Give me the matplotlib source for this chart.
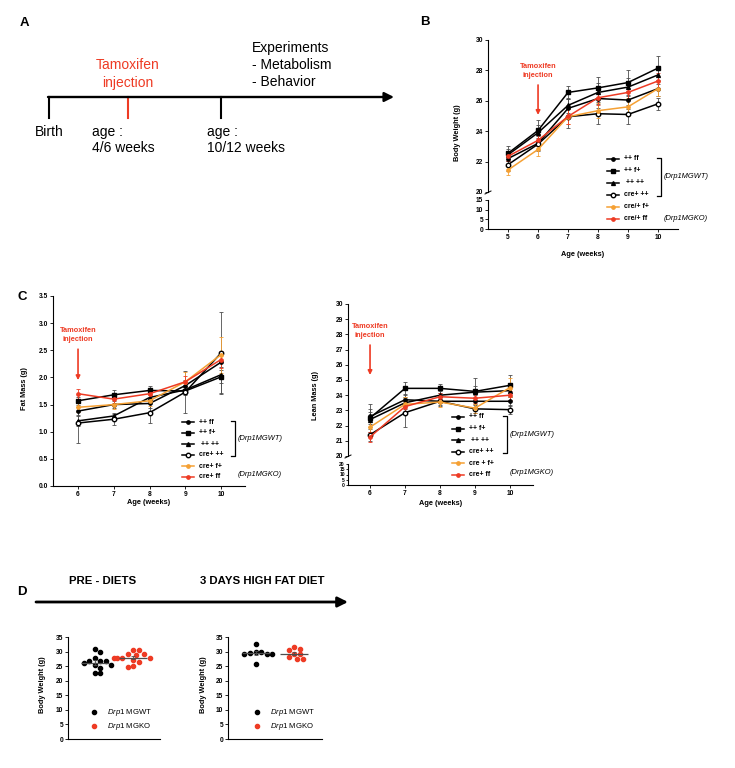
import numpy as np
import matplotlib
matplotlib.use("Agg")
import matplotlib.pyplot as plt

plt.rcParams['font.family'] = ['Liberation Sans', 'DejaVu Sans']
plt.rcParams['mathtext.fontset'] = 'custom'
plt.rcParams['mathtext.rm'] = 'Liberation Sans'
plt.rcParams['mathtext.it'] = 'Liberation Sans:italic'

W, H = 735, 768
RED = "#EE3B24"
ORANGE = "#F5A033"
TICK_FS = 4.8
LAB_FS = 5.3

# ---------------- data ----------------
# B: body weight (g), weeks 5-10
weeks_b = [5, 6, 7, 8, 9, 10]
bw_ppff = [22.2, 23.2, 25.5, 26.15, 26.05, 26.8]
bw_ppfp = [22.55, 24.05, 26.55, 26.85, 27.2, 28.15]
bw_pppp = [22.45, 23.9, 25.7, 26.55, 26.9, 27.7]
bw_crepp = [21.8, 23.15, 24.95, 25.15, 25.1, 25.8]
bw_crefp = [21.45, 22.8, 24.95, 25.35, 25.6, 26.8]
bw_creff = [22.35, 23.4, 24.97, 26.2, 26.55, 27.3]
bw_ppff_err = [0.4, 0.5, 0.6, 0.6, 0.6, 0.5]
bw_ppfp_err = [0.5, 0.7, 0.45, 0.7, 0.8, 0.8]
bw_pppp_err = [0.4, 0.5, 0.5, 0.6, 0.6, 0.6]
bw_crepp_err = [0.4, 0.4, 0.75, 0.65, 0.65, 0.4]
bw_crefp_err = [0.35, 0.45, 0.5, 0.5, 0.6, 0.5]
bw_creff_err = [0.3, 0.4, 0.5, 0.5, 0.5, 0.5]
labels_b = ["++ ff", "++ f+", " ++ ++", "cre+ ++", "cre/+ f+", "cre/+ ff"]

# C: fat mass and lean mass (g), weeks 6-10
weeks_c = [6, 7, 8, 9, 10]
fm_ppff = [1.38, 1.50, 1.52, 1.85, 2.28]
fm_ppfp = [1.57, 1.68, 1.76, 1.75, 2.01]
fm_pppp = [1.20, 1.29, 1.63, 1.77, 2.05]
fm_crepp = [1.16, 1.23, 1.35, 1.73, 2.45]
fm_crefp = [1.45, 1.50, 1.57, 1.92, 2.42]
fm_creff = [1.70, 1.60, 1.70, 1.92, 2.33]
fm_ppff_err = [0.08, 0.07, 0.08, 0.10, 0.15]
fm_ppfp_err = [0.07, 0.08, 0.09, 0.08, 0.30]
fm_pppp_err = [0.09, 0.06, 0.07, 0.08, 0.15]
fm_crepp_err = [0.36, 0.10, 0.19, 0.38, 0.75]
fm_crefp_err = [0.08, 0.08, 0.10, 0.18, 0.33]
fm_creff_err = [0.09, 0.07, 0.08, 0.10, 0.15]
labels_fm = ["++ ff", "++ f+", " ++ ++", "cre+ ++", "cre+ f+", "cre+ ff"]

ln_ppff = [22.6, 23.7, 23.6, 23.6, 23.6]
ln_ppfp = [22.5, 24.45, 24.45, 24.25, 24.65]
ln_pppp = [22.4, 23.5, 24.0, 24.2, 24.3]
ln_crepp = [21.4, 22.85, 23.6, 23.1, 23.05]
ln_crefp = [21.9, 23.4, 23.55, 23.15, 24.5]
ln_creff = [21.25, 23.25, 23.9, 23.8, 24.0]
ln_ppff_err = [0.5, 0.4, 0.25, 0.4, 0.3]
ln_ppfp_err = [0.9, 0.45, 0.3, 0.9, 0.7]
ln_pppp_err = [0.5, 0.4, 0.3, 0.4, 0.4]
ln_crepp_err = [0.4, 0.95, 0.3, 0.3, 0.3]
ln_crefp_err = [0.5, 0.5, 0.3, 0.3, 0.6]
ln_creff_err = [0.3, 0.4, 0.25, 0.3, 0.3]
labels_ln = ["++ ff", "++ f+", " ++ ++", "cre+ ++", "cre + f+", "cre+ ff"]

# D: body weight (g), individual mice
pre_wt = [31.0, 29.9, 27.8, 26.7, 26.7, 26.7, 26.1, 25.3, 25.3, 24.5, 22.5, 22.5]
pre_ko = [30.4, 30.4, 29.2, 29.2, 28.9, 27.8, 27.8, 27.8, 27.8, 27.0, 26.4, 25.0, 24.7]
hfd_wt = [32.6, 29.9, 29.9, 29.6, 29.3, 29.1, 29.1, 25.6]
hfd_ko = [31.4, 31.0, 30.4, 29.3, 29.1, 28.0, 27.6, 27.6]
groups_d = ["$\\mathit{Drp1}$ MGWT", "$\\mathit{Drp1}$ MGKO"]

# marker style per genotype: colour, marker, face, size
specs = [("black", "o", "black", 2.4), ("black", "s", "black", 2.8),
         ("black", "^", "black", 2.8), ("black", "o", "white", 3.2),
         (ORANGE, "o", ORANGE, 2.4), (RED, "o", RED, 2.4)]

fig = plt.figure(figsize=(W / 100, H / 100), dpi=100)


def px_rect(x0, y0, x1, y1):
    return [x0 / W, 1 - y1 / H, (x1 - x0) / W, (y1 - y0) / H]


def style_ax(ax, yticks, xticks=None, yfs=TICK_FS, yfmt="{:g}"):
    ax.set_facecolor("none")
    for s in ("top", "right"):
        ax.spines[s].set_visible(False)
    for s in ("left", "bottom"):
        ax.spines[s].set_linewidth(0.8)
    ax.tick_params(length=2, width=0.6, pad=1.5)
    ax.set_yticks(yticks, [yfmt.format(t) for t in yticks], fontsize=yfs, fontweight="bold")
    if xticks is not None:
        ax.set_xticks(xticks, [str(t) for t in xticks], fontsize=TICK_FS, fontweight="bold")


def plot_series(ax, x, ys, errs):
    for y, e, (c, m, mfc, ms) in zip(ys, errs, specs):
        ec = "0.3" if c == "black" else c
        ax.errorbar(x, y, yerr=e, color=c, marker=m, mfc=mfc, mec=c, ms=ms,
                    lw=1.1, ecolor=ec, elinewidth=0.6, capsize=1.4, capthick=0.6, zorder=3)


def hide_bottom(ax):
    ax.spines["bottom"].set_visible(False)
    ax.tick_params(axis="x", bottom=False, labelbottom=False)


def tamoxifen(ax, x, ytext, ystart, yend):
    ax.text(x, ytext, "Tamoxifen\ninjection", color=RED, fontsize=LAB_FS, fontweight="bold",
            ha="center", va="center", linespacing=1.3)
    ax.annotate("", xy=(x, yend), xytext=(x, ystart),
                arrowprops=dict(arrowstyle="-|>", color=RED, lw=1.2, mutation_scale=6,
                                shrinkA=0, shrinkB=0))


# overlay in pixel coordinates for panel labels, timelines and legends
ov = fig.add_axes([0, 0, 1, 1], zorder=10)
ov.set_xlim(0, W)
ov.set_ylim(H, 0)
ov.set_axis_off()


def legend_block(x0, x1, ytop, dy, labels, brx, ko_y):
    for i, (lab, (c, m, mfc, ms)) in enumerate(zip(labels, specs)):
        y = ytop + i * dy
        ov.plot([x0, x1], [y, y], color=c, lw=1.1)
        ov.plot([(x0 + x1) / 2], [y], marker=m, color=c, mfc=mfc, mec=c, ms=ms)
        ov.text(x1 + 5, y, lab, fontsize=5, fontweight="bold", va="center", ha="left")
    ya, yb = ytop - 1, ytop + 3 * dy + 1
    ov.plot([brx - 4, brx, brx, brx - 4], [ya, ya, yb, yb], color="black", lw=0.9)
    ov.text(brx + 2.5, (ya + yb) / 2, "(Drp1MGWT)", fontsize=5.4, style="italic", va="center")
    ov.text(brx + 2.5, ko_y, "(Drp1MGKO)", fontsize=5.4, style="italic", va="center")


# ---------------- panel letters ----------------
for lab, x, y in [("A", 24, 23), ("B", 425, 22), ("C", 22, 297), ("D", 22, 592)]:
    ov.text(x, y, lab, fontsize=9.5, fontweight="bold", ha="center", va="center")

# ---------------- panel A: timeline ----------------
ov.annotate("", xy=(394, 97), xytext=(48, 97),
            arrowprops=dict(arrowstyle="-|>", color="black", lw=1.7, mutation_scale=14,
                            shrinkA=0, shrinkB=0))
ov.plot([49, 49], [97, 118], color="black", lw=1.5)
ov.plot([128, 128], [97, 118], color=RED, lw=1.5)
ov.plot([221, 221], [97, 118], color="black", lw=1.5)
ov.text(49, 132, "Birth", fontsize=10, ha="center", va="center")
ov.text(92, 140, "age :\n4/6 weeks", fontsize=10, ha="left", va="center", linespacing=1.25)
ov.text(207, 140, "age :\n10/12 weeks", fontsize=10, ha="left", va="center", linespacing=1.25)
ov.text(128, 74, "Tamoxifen\ninjection", fontsize=10, color=RED, ha="center", va="center",
        linespacing=1.3)
ov.text(252, 65, "Experiments\n- Metabolism\n- Behavior", fontsize=10, ha="left", va="center",
        linespacing=1.25)

# ---------------- panel B ----------------
xl_b = (4.33, 10.67)
axB = fig.add_axes(px_rect(488, 40, 678, 192))
axB.set_xlim(*xl_b)
axB.set_ylim(20, 30)
style_ax(axB, [20, 22, 24, 26, 28, 30])
hide_bottom(axB)
plot_series(axB, weeks_b, [bw_ppff, bw_ppfp, bw_pppp, bw_crepp, bw_crefp, bw_creff],
            [bw_ppff_err, bw_ppfp_err, bw_pppp_err, bw_crepp_err, bw_crefp_err, bw_creff_err])
tamoxifen(axB, 6, 27.96, 27.04, 25.07)
axB2 = fig.add_axes(px_rect(488, 200, 678, 229))
axB2.set_xlim(*xl_b)
axB2.set_ylim(0, 15)
style_ax(axB2, [0, 5, 10, 15], weeks_b)
axB2.set_xlabel("Age (weeks)", fontsize=LAB_FS, fontweight="bold", labelpad=7)
ov.text(458, 133, "Body Weight (g)", fontsize=LAB_FS, fontweight="bold", rotation=90,
        ha="center", va="center")
ov.plot([485, 491], [194, 191], color="black", lw=0.7)
legend_block(607, 619, 159, 12, labels_b, 661, 219)

# ---------------- panel C: fat mass ----------------
axF = fig.add_axes(px_rect(53, 296, 245, 486))
axF.set_xlim(5.30, 10.67)
axF.set_ylim(0, 3.5)
style_ax(axF, [0.0, 0.5, 1.0, 1.5, 2.0, 2.5, 3.0, 3.5], weeks_c, yfmt="{:.1f}")
plot_series(axF, weeks_c, [fm_ppff, fm_ppfp, fm_pppp, fm_crepp, fm_crefp, fm_creff],
            [fm_ppff_err, fm_ppfp_err, fm_pppp_err, fm_crepp_err, fm_crefp_err, fm_creff_err])
tamoxifen(axF, 6, 2.78, 2.52, 1.95)
axF.set_xlabel("Age (weeks)", fontsize=LAB_FS, fontweight="bold", labelpad=1)
ov.text(25, 389, "Fat Mass (g)", fontsize=LAB_FS, fontweight="bold", rotation=90,
        ha="center", va="center")
legend_block(182, 194, 422, 11, labels_fm, 235, 475)

# ---------------- panel C: lean mass ----------------
xl_c = (5.37, 10.66)
axL = fig.add_axes(px_rect(348, 304, 533, 456))
axL.set_xlim(*xl_c)
axL.set_ylim(20, 30)
style_ax(axL, list(range(20, 31)))
hide_bottom(axL)
plot_series(axL, weeks_c, [ln_ppff, ln_ppfp, ln_pppp, ln_crepp, ln_crefp, ln_creff],
            [ln_ppff_err, ln_ppfp_err, ln_pppp_err, ln_crepp_err, ln_crefp_err, ln_creff_err])
tamoxifen(axL, 6, 28.24, 27.3, 25.33)
axL2 = fig.add_axes(px_rect(348, 464, 533, 485))
axL2.set_xlim(*xl_c)
axL2.set_ylim(0, 20)
style_ax(axL2, [0, 5, 10, 15, 20], weeks_c, yfs=3.6)
axL2.tick_params(axis="y", length=1.2, pad=1)
axL2.set_xlabel("Age (weeks)", fontsize=LAB_FS, fontweight="bold", labelpad=2)
ov.text(316, 395, "Lean Mass (g)", fontsize=LAB_FS, fontweight="bold", rotation=90,
        ha="center", va="center")
ov.plot([345, 351], [458, 455], color="black", lw=0.7)
legend_block(452, 464, 417, 11.6, labels_ln, 507, 473)

# ---------------- panel D ----------------
ov.text(103, 581, "PRE - DIETS", fontsize=8.2, fontweight="bold", ha="center", va="center")
ov.text(262, 581, "3 DAYS HIGH FAT DIET", fontsize=8.2, fontweight="bold", ha="center", va="center")
ov.annotate("", xy=(348, 602), xytext=(36, 602),
            arrowprops=dict(arrowstyle="-|>", color="black", lw=2.0, mutation_scale=15,
                            shrinkA=0, shrinkB=0))

D_YPX = 102 / 35     # pixels per gram on the dot-plot axes
D_XPX = 92 / 2.42    # pixels per category unit


def swarm_offsets(vals, d=5.0):
    # greedy beeswarm in pixel space, returns x offsets in data units
    vals = np.asarray(vals)
    placed = []
    offs = np.zeros(len(vals))
    cands = [0]
    for k in range(1, 8):
        cands += [k * d * 0.55, -k * d * 0.55]
    for i in np.argsort(-vals):
        y = vals[i] * D_YPX
        for cx in cands:
            if all((cx - px) ** 2 + (y - py) ** 2 >= d * d for px, py in placed):
                break
        placed.append((cx, y))
        offs[i] = cx / D_XPX
    return offs


def dot_panel(rect, wt, ko, ylab_x, leg_x):
    ax = fig.add_axes(px_rect(*rect))
    ax.set_xlim(-0.71, 1.71)
    ax.set_ylim(0, 35)
    style_ax(ax, [0, 5, 10, 15, 20, 25, 30, 35])
    ax.tick_params(axis="x", bottom=False, labelbottom=False)
    for pos, vals, c in [(0, wt, "black"), (1, ko, RED)]:
        xs = pos + swarm_offsets(vals)
        ax.plot(xs, vals, "o", color=c, ms=3, zorder=3)
        m = np.mean(vals)
        sem = np.std(vals, ddof=1) / np.sqrt(len(vals))
        ax.hlines(m, pos - 0.36, pos + 0.36, color="0.3", lw=0.9, zorder=4)
        ax.errorbar([pos], [m], yerr=sem, color="0.3", elinewidth=0.6, capsize=1.5,
                    capthick=0.6, fmt="none", zorder=4)
    ov.text(ylab_x, 685, "Body Weight (g)", fontsize=LAB_FS, fontweight="bold", rotation=90,
            ha="center", va="center")
    for y, lab, c in [(712, groups_d[0], "black"), (726, groups_d[1], RED)]:
        ov.plot([leg_x], [y], "o", color=c, ms=3)
        ov.text(leg_x + 13, y, lab, fontsize=5.6, va="center", ha="left")
    return ax


dot_panel((68, 637, 160, 739), pre_wt, pre_ko, 43, 94)
dot_panel((228, 637, 322, 739), hfd_wt, hfd_ko, 204, 257)

fig.savefig("out.png", dpi=100)
